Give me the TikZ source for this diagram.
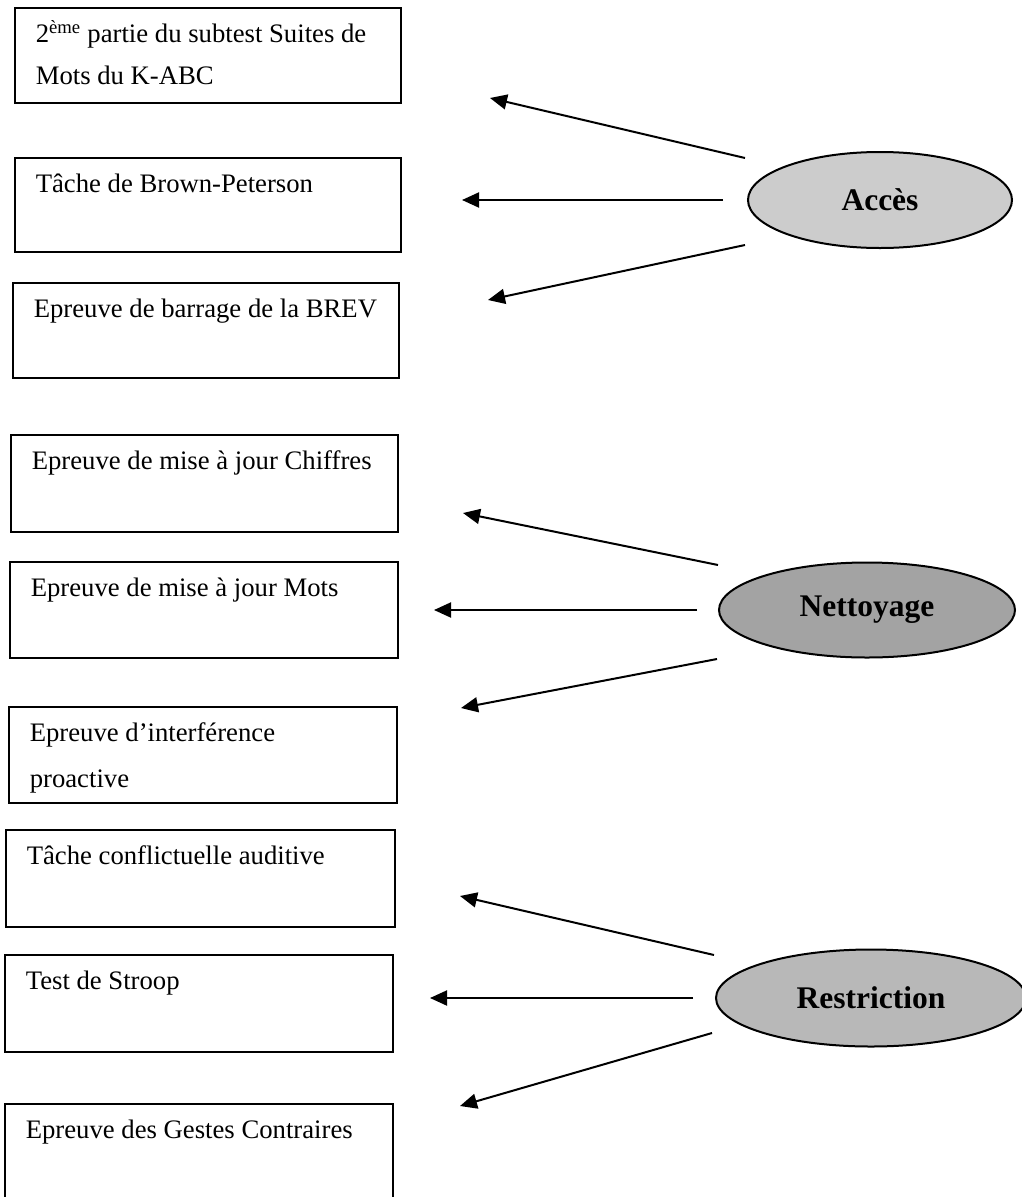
\documentclass[tikz,border=0pt]{standalone}
\usepackage{fontspec}
\setmainfont{Liberation Serif}
\usetikzlibrary{arrows.meta,shapes.geometric}
\newcommand{\boxtxt}[2]{\parbox[t]{#1pt}{\raggedright\leftskip=21pt #2}}
\begin{document}
\begin{tikzpicture}[x=1pt,y=-1pt,
  tbox/.style={draw, line width=1.6pt, anchor=north west, inner sep=0pt,
    text height=35pt, text depth=#1pt, font=\fontsize{26.7}{46}\selectfont},
  ell/.style={ellipse, draw, line width=2pt, inner sep=0pt,
    font=\fontsize{31.5}{36}\selectfont\bfseries},
  arr/.style={line width=2pt, -{Triangle[length=17pt,width=15pt]}}]
\useasboundingbox (0,0) rectangle (1021,1197);

% boxes
\node[tbox=60] (b1) at (14,7) {\boxtxt{386}{2\textsuperscript{ème} partie du subtest Suites de\\[-4pt]Mots du K-ABC}};
\node[tbox=59] (b2) at (14,157) {\boxtxt{386}{Tâche de Brown-Peterson}};
\node[tbox=60] (b3) at (12,282) {\boxtxt{386}{Epreuve de barrage de la BREV}};
\node[tbox=62] (b4) at (10,434) {\boxtxt{387}{Epreuve de mise à jour Chiffres}};
\node[tbox=61] (b5) at (9,561) {\boxtxt{388}{Epreuve de mise à jour Mots}};
\node[tbox=61] (b6) at (8,706) {\boxtxt{388}{Epreuve d’interférence\\proactive}};
\node[tbox=62] (b7) at (5,829) {\boxtxt{389}{Tâche conflictuelle auditive}};
\node[tbox=62] (b8) at (4,954) {\boxtxt{388}{Test de Stroop}};
\node[tbox=62] (b9) at (4,1103) {\boxtxt{388}{Epreuve des Gestes Contraires}};

% ellipses
\node[ell, fill=black!20, minimum width=264pt, minimum height=96pt] (acces) at (880,200) {Accès};
\node[ell, fill=black!36, minimum width=296pt, minimum height=95pt] (nett) at (867,610) {Nettoyage};
\node[ell, fill=black!28, minimum width=310pt, minimum height=97pt] (restr) at (871,998) {Restriction};

% arrow end points
\coordinate (a1s) at (745,158); \coordinate (a1e) at (490,98);
\coordinate (a2s) at (723,200); \coordinate (a2e) at (462,200);
\coordinate (a3s) at (745,245); \coordinate (a3e) at (488,300);
\coordinate (n1s) at (718,565); \coordinate (n1e) at (463,513);
\coordinate (n2s) at (697,610); \coordinate (n2e) at (434,610);
\coordinate (n3s) at (717,659); \coordinate (n3e) at (461,708);
\coordinate (r1s) at (714,955); \coordinate (r1e) at (460,896);
\coordinate (r2s) at (693,998); \coordinate (r2e) at (430,998);
\coordinate (r3s) at (712,1033); \coordinate (r3e) at (460,1106);

\draw[arr] (a1s) -- (a1e);
\draw[arr] (a2s) -- (a2e);
\draw[arr] (a3s) -- (a3e);
\draw[arr] (n1s) -- (n1e);
\draw[arr] (n2s) -- (n2e);
\draw[arr] (n3s) -- (n3e);
\draw[arr] (r1s) -- (r1e);
\draw[arr] (r2s) -- (r2e);
\draw[arr] (r3s) -- (r3e);
\end{tikzpicture}
\end{document}
